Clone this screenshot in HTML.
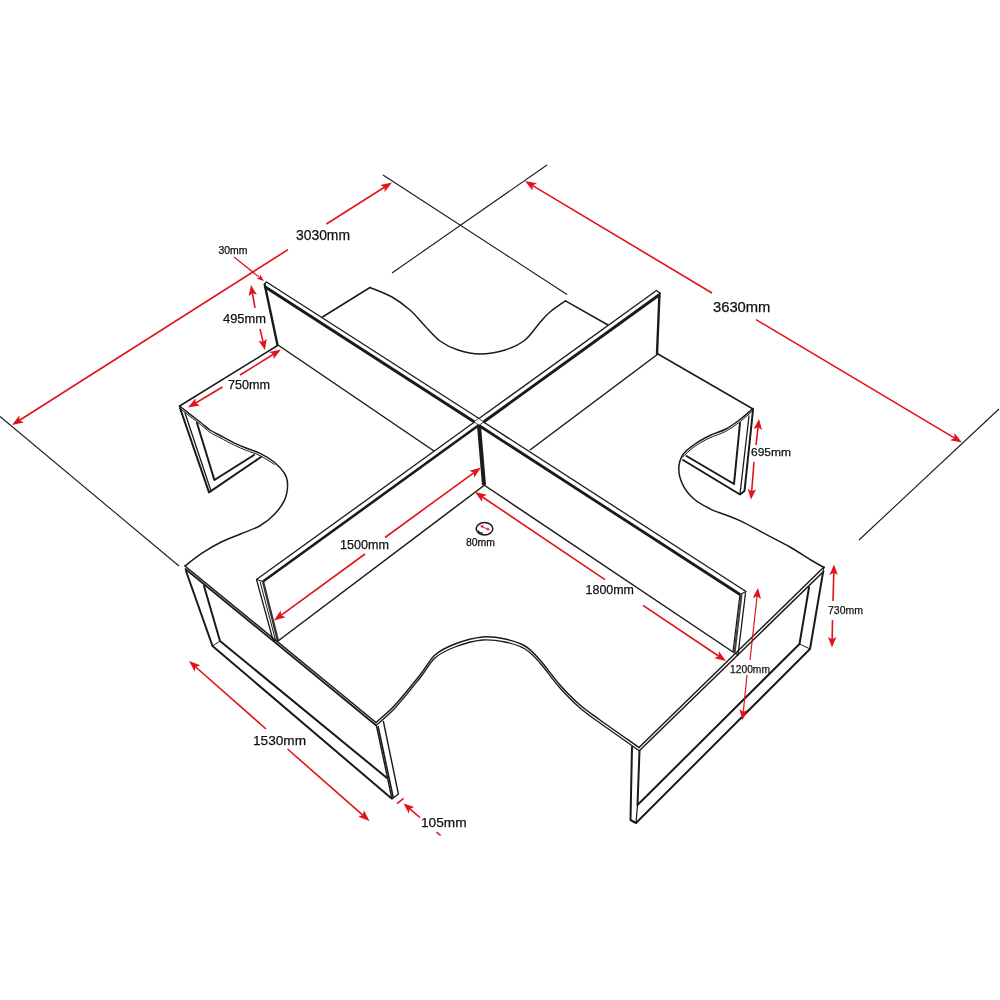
<!DOCTYPE html>
<html><head><meta charset="utf-8"><title>Workstation dimensions</title>
<style>
html,body{margin:0;padding:0;background:#fff;}
body{width:1000px;height:1000px;overflow:hidden;}
svg{display:block;}
text{font-family:"Liberation Sans",sans-serif;}
</style></head><body>
<svg width="1000" height="1000" viewBox="0 0 1000 1000">
<rect width="1000" height="1000" fill="#ffffff"/>
<line x1="0.0" y1="416.5" x2="179.0" y2="566.0" stroke="#1a1a1a" stroke-width="1.1" stroke-linecap="butt"/>
<line x1="383.0" y1="175.0" x2="567.0" y2="294.5" stroke="#1a1a1a" stroke-width="1.1" stroke-linecap="butt"/>
<line x1="547.0" y1="165.0" x2="392.0" y2="273.0" stroke="#1a1a1a" stroke-width="1.1" stroke-linecap="butt"/>
<line x1="999.0" y1="409.0" x2="859.0" y2="540.0" stroke="#1a1a1a" stroke-width="1.1" stroke-linecap="butt"/>
<path d="M322.5,317.0 L370.0,287.5" stroke="#1a1a1a" stroke-width="1.5" fill="none" stroke-linejoin="round" stroke-linecap="round"/>
<path d="M370.0,287.5 C373.7,289.1 385.3,293.2 392.0,297.0 C398.7,300.8 404.5,305.2 410.0,310.0 C415.5,314.8 420.0,320.8 425.0,326.0 C430.0,331.2 434.5,337.0 440.0,341.0 C445.5,345.0 451.3,347.8 458.0,350.0 C464.7,352.2 472.2,354.0 480.0,354.0 C487.8,354.0 497.5,352.3 505.0,350.0 C512.5,347.7 519.2,344.6 525.0,340.0 C530.8,335.4 535.8,327.2 540.0,322.5 C544.2,317.8 545.8,315.6 550.0,312.0 C554.2,308.4 562.9,302.6 565.5,300.8" stroke="#1a1a1a" stroke-width="1.5" fill="none" stroke-linecap="round"/>
<path d="M565.5,300.8 L608.0,325.0" stroke="#1a1a1a" stroke-width="1.5" fill="none" stroke-linejoin="round" stroke-linecap="round"/>
<path d="M277.5,345.5 L179.6,406.0" stroke="#1a1a1a" stroke-width="1.5" fill="none" stroke-linejoin="round" stroke-linecap="round"/>
<line x1="278.0" y1="345.0" x2="434.0" y2="451.0" stroke="#1a1a1a" stroke-width="1.5" stroke-linecap="butt"/>
<path d="M179.5,406.0 C182.9,408.7 194.9,418.0 200.0,422.0 C205.1,426.0 206.7,427.8 210.0,430.0 C213.3,432.2 216.0,433.4 220.0,435.5 C224.0,437.6 229.7,440.7 234.0,442.8 C238.3,444.9 241.7,446.3 246.0,448.0 C250.3,449.7 254.9,450.9 259.6,453.2 C264.3,455.5 269.9,458.7 274.0,462.0 C278.1,465.3 282.1,469.5 284.4,473.2 C286.7,476.9 287.6,479.9 287.6,484.4 C287.6,488.9 286.7,495.3 284.4,500.4 C282.1,505.5 278.1,510.5 274.0,514.8 C269.9,519.1 265.2,522.8 259.6,526.0 C254.0,529.2 246.8,531.3 240.4,534.0 C234.0,536.7 227.6,538.8 221.2,542.0 C214.8,545.2 208.0,549.2 202.0,553.2 C196.0,557.2 187.8,563.9 185.0,566.0" stroke="#1a1a1a" stroke-width="1.5" fill="none" stroke-linecap="round"/>
<path d="M179.8,408.4 C183.2,411.1 195.2,420.4 200.3,424.4 C205.4,428.4 207.0,430.1 210.3,432.4 C213.6,434.6 216.3,435.8 220.3,437.9 C224.3,440.0 230.0,443.1 234.3,445.2 C238.6,447.3 242.0,448.7 246.3,450.4 C250.6,452.1 255.2,453.3 259.9,455.6 C264.6,457.9 271.9,462.9 274.3,464.4" stroke="#1a1a1a" stroke-width="1" fill="none" stroke-linecap="round"/>
<path d="M180.0,408.0 L209.0,492.4 L261.0,457.0" stroke="#1a1a1a" stroke-width="2.0" fill="none" stroke-linejoin="round" stroke-linecap="round"/>
<path d="M185.0,413.0 L211.0,491.0" stroke="#1a1a1a" stroke-width="1.3" fill="none" stroke-linejoin="round" stroke-linecap="round"/>
<path d="M197.0,423.0 L214.4,480.0 L254.0,455.0" stroke="#1a1a1a" stroke-width="2.0" fill="none" stroke-linejoin="round" stroke-linecap="round"/>
<path d="M658.0,354.0 L753.0,409.0" stroke="#1a1a1a" stroke-width="1.5" fill="none" stroke-linejoin="round" stroke-linecap="round"/>
<line x1="658.0" y1="354.0" x2="530.0" y2="450.0" stroke="#1a1a1a" stroke-width="1.5" stroke-linecap="butt"/>
<path d="M753.0,408.5 C750.8,410.3 744.5,416.1 740.0,419.5 C735.5,422.9 731.0,426.3 726.0,429.0 C721.0,431.7 715.2,433.0 710.0,435.5 C704.8,438.0 699.5,440.8 695.0,444.0 C690.5,447.2 685.7,450.4 683.0,454.5 C680.3,458.6 678.8,463.8 678.8,468.8 C678.8,473.9 680.3,479.8 682.8,484.8 C685.3,489.8 689.5,495.0 694.0,499.0 C698.5,503.0 704.7,506.1 710.0,508.8 C715.3,511.5 720.7,512.9 726.0,515.0 C731.3,517.1 735.3,518.4 742.0,521.6 C748.7,524.8 758.0,530.2 766.0,534.4 C774.0,538.6 782.5,542.7 790.0,547.0 C797.5,551.3 805.1,556.6 810.8,560.0 C816.5,563.4 821.8,566.2 824.0,567.5" stroke="#1a1a1a" stroke-width="1.5" fill="none" stroke-linecap="round"/>
<path d="M752.7,410.9 C750.5,412.7 744.2,418.5 739.7,421.9 C735.2,425.3 730.7,428.7 725.7,431.4 C720.7,434.1 714.9,435.4 709.7,437.9 C704.5,440.4 699.2,443.2 694.7,446.4 C690.2,449.6 684.7,455.1 682.7,456.9" stroke="#1a1a1a" stroke-width="1" fill="none" stroke-linecap="round"/>
<path d="M753.0,410.0 L744.5,491.0 L740.0,494.5 L683.0,460.0" stroke="#1a1a1a" stroke-width="2.0" fill="none" stroke-linejoin="round" stroke-linecap="round"/>
<path d="M749.0,416.0 L740.0,494.0" stroke="#1a1a1a" stroke-width="1.3" fill="none" stroke-linejoin="round" stroke-linecap="round"/>
<path d="M740.0,423.0 L734.0,484.0 L686.5,456.0" stroke="#1a1a1a" stroke-width="2.0" fill="none" stroke-linejoin="round" stroke-linecap="round"/>
<path d="M185.0,566.0 L376.0,722.5" stroke="#1a1a1a" stroke-width="1.5" fill="none" stroke-linejoin="round" stroke-linecap="round"/>
<path d="M185.5,569.0 L376.0,725.3" stroke="#1a1a1a" stroke-width="1.8" fill="none" stroke-linejoin="round" stroke-linecap="round"/>
<path d="M824.0,567.0 L639.0,747.5" stroke="#1a1a1a" stroke-width="1.5" fill="none" stroke-linejoin="round" stroke-linecap="round"/>
<path d="M823.8,571.3 L639.3,750.7" stroke="#1a1a1a" stroke-width="1.5" fill="none" stroke-linejoin="round" stroke-linecap="round"/>
<line x1="824.0" y1="567.0" x2="823.0" y2="572.0" stroke="#1a1a1a" stroke-width="1" stroke-linecap="butt"/>
<path d="M376.0,722.5 C379.2,719.6 387.7,712.9 395.0,705.0 C402.3,697.1 413.3,683.3 420.0,675.0 C426.7,666.7 429.2,660.2 435.0,655.0 C440.8,649.8 447.1,647.0 455.0,644.0 C462.9,641.0 474.2,637.8 482.5,637.0 C490.8,636.2 497.9,637.5 505.0,639.0 C512.1,640.5 519.2,642.5 525.0,646.0 C530.8,649.5 534.2,653.5 540.0,660.0 C545.8,666.5 553.3,677.5 560.0,685.0 C566.7,692.5 573.3,699.2 580.0,705.0 C586.7,710.8 590.2,712.9 600.0,720.0 C609.8,727.1 632.5,742.9 639.0,747.5" stroke="#1a1a1a" stroke-width="1.5" fill="none" stroke-linecap="round"/>
<path d="M376.0,725.5 C379.2,722.6 387.7,715.9 395.0,708.0 C402.3,700.1 413.3,686.3 420.0,678.0 C426.7,669.7 429.2,663.2 435.0,658.0 C440.8,652.8 447.1,650.0 455.0,647.0 C462.9,644.0 474.2,640.8 482.5,640.0 C490.8,639.2 497.9,640.5 505.0,642.0 C512.1,643.5 519.2,645.5 525.0,649.0 C530.8,652.5 534.2,656.5 540.0,663.0 C545.8,669.5 553.3,680.5 560.0,688.0 C566.7,695.5 573.3,702.2 580.0,708.0 C586.7,713.8 590.2,715.9 600.0,723.0 C609.8,730.1 632.5,745.9 639.0,750.5" stroke="#1a1a1a" stroke-width="1.3" fill="none" stroke-linecap="round"/>
<path d="M186.0,571.0 L212.5,646.0 L391.0,798.0" stroke="#1a1a1a" stroke-width="2.0" fill="none" stroke-linejoin="round" stroke-linecap="round"/>
<path d="M204.0,586.0 L220.0,641.0 L387.0,778.0" stroke="#1a1a1a" stroke-width="2.0" fill="none" stroke-linejoin="round" stroke-linecap="round"/>
<line x1="212.5" y1="646.0" x2="220.0" y2="641.0" stroke="#1a1a1a" stroke-width="1" stroke-linecap="butt"/>
<path d="M376.5,726.0 L392.0,799.0 L398.4,794.0 L383.4,721.5" stroke="#1a1a1a" stroke-width="1.4" fill="none" stroke-linejoin="round" stroke-linecap="round"/>
<line x1="378.0" y1="726.0" x2="393.3" y2="798.0" stroke="#1a1a1a" stroke-width="1.6" stroke-linecap="butt"/>
<path d="M632.0,747.0 L630.5,820.0 L636.0,823.0 L810.0,649.0 L823.0,572.5" stroke="#1a1a1a" stroke-width="2.0" fill="none" stroke-linejoin="round" stroke-linecap="round"/>
<path d="M639.5,751.0 L637.5,805.0 L799.5,644.0 L809.0,587.5" stroke="#1a1a1a" stroke-width="2.0" fill="none" stroke-linejoin="round" stroke-linecap="round"/>
<line x1="636.0" y1="823.0" x2="637.5" y2="805.0" stroke="#1a1a1a" stroke-width="1.2" stroke-linecap="butt"/>
<line x1="810.0" y1="649.0" x2="799.5" y2="644.0" stroke="#1a1a1a" stroke-width="1" stroke-linecap="butt"/>
<path d="M264.8,285.0 L277.5,345.0" stroke="#1a1a1a" stroke-width="2.4" fill="none" stroke-linejoin="round" stroke-linecap="round"/>
<line x1="266.5" y1="282.0" x2="479.0" y2="418.5" stroke="#1a1a1a" stroke-width="1.3" stroke-linecap="butt"/>
<line x1="264.5" y1="286.5" x2="474.5" y2="422.0" stroke="#1a1a1a" stroke-width="3.0" stroke-linecap="butt"/>
<path d="M264.3,284.0 L266.5,282.0" stroke="#1a1a1a" stroke-width="1.3" fill="none" stroke-linejoin="round" stroke-linecap="round"/>
<path d="M659.5,293.5 L657.0,353.5" stroke="#1a1a1a" stroke-width="2.4" fill="none" stroke-linejoin="round" stroke-linecap="round"/>
<path d="M656.5,290.5 L660.0,293.0" stroke="#1a1a1a" stroke-width="1.3" fill="none" stroke-linejoin="round" stroke-linecap="round"/>
<line x1="656.5" y1="290.5" x2="479.0" y2="418.5" stroke="#1a1a1a" stroke-width="1.3" stroke-linecap="butt"/>
<line x1="659.0" y1="295.0" x2="483.5" y2="422.0" stroke="#1a1a1a" stroke-width="3.0" stroke-linecap="butt"/>
<line x1="479.0" y1="426.0" x2="484.0" y2="485.0" stroke="#1a1a1a" stroke-width="4" stroke-linecap="butt"/>
<path d="M479.0,418.5 L483.5,422.0 L479.0,425.5 L474.5,422.0 Z" stroke="#1a1a1a" stroke-width="0.8" fill="none" stroke-linejoin="round" stroke-linecap="round"/>
<line x1="256.5" y1="579.5" x2="474.5" y2="422.0" stroke="#1a1a1a" stroke-width="1.3" stroke-linecap="butt"/>
<line x1="263.0" y1="581.5" x2="479.0" y2="425.0" stroke="#1a1a1a" stroke-width="2.6" stroke-linecap="butt"/>
<path d="M256.5,579.5 L263.0,581.5" stroke="#1a1a1a" stroke-width="1.2" fill="none" stroke-linejoin="round" stroke-linecap="round"/>
<path d="M256.5,579.5 L273.0,640.0 L278.0,641.0" stroke="#1a1a1a" stroke-width="1.3" fill="none" stroke-linejoin="round" stroke-linecap="round"/>
<line x1="263.0" y1="581.5" x2="278.0" y2="641.0" stroke="#333" stroke-width="2.4" stroke-linecap="butt"/>
<line x1="260.0" y1="581.5" x2="275.5" y2="640.0" stroke="#1a1a1a" stroke-width="1" stroke-linecap="butt"/>
<line x1="278.0" y1="641.0" x2="484.0" y2="485.5" stroke="#1a1a1a" stroke-width="1.5" stroke-linecap="butt"/>
<line x1="483.5" y1="422.0" x2="746.0" y2="591.5" stroke="#1a1a1a" stroke-width="1.3" stroke-linecap="butt"/>
<line x1="479.0" y1="425.5" x2="740.0" y2="594.5" stroke="#1a1a1a" stroke-width="2.8" stroke-linecap="butt"/>
<path d="M746.0,591.5 L740.0,594.5" stroke="#1a1a1a" stroke-width="1.2" fill="none" stroke-linejoin="round" stroke-linecap="round"/>
<path d="M745.5,593.0 L738.0,655.0 L733.0,652.0 L740.0,594.5" stroke="#1a1a1a" stroke-width="1.3" fill="none" stroke-linejoin="round" stroke-linecap="round"/>
<line x1="741.5" y1="594.0" x2="734.5" y2="653.0" stroke="#444" stroke-width="2.2" stroke-linecap="butt"/>
<line x1="484.0" y1="485.0" x2="733.0" y2="652.0" stroke="#1a1a1a" stroke-width="1.5" stroke-linecap="butt"/>
<path d="M12.0,425.0 L19.3,415.4 L19.6,420.2 L23.8,422.5 Z" fill="#e0131b"/>
<line x1="288.0" y1="249.6" x2="19.6" y2="420.2" stroke="#e0131b" stroke-width="1.6" stroke-linecap="butt"/>
<path d="M392.0,182.4 L384.7,192.0 L384.4,187.2 L380.2,184.9 Z" fill="#e0131b"/>
<line x1="326.4" y1="224.0" x2="384.4" y2="187.2" stroke="#e0131b" stroke-width="1.6" stroke-linecap="butt"/>
<path d="M525.0,181.0 L536.9,183.2 L532.7,185.6 L532.5,190.4 Z" fill="#e0131b"/>
<line x1="712.0" y1="293.0" x2="532.7" y2="185.6" stroke="#e0131b" stroke-width="1.6" stroke-linecap="butt"/>
<path d="M962.0,442.5 L950.1,440.3 L954.3,437.9 L954.4,433.1 Z" fill="#e0131b"/>
<line x1="756.0" y1="319.6" x2="954.3" y2="437.9" stroke="#e0131b" stroke-width="1.6" stroke-linecap="butt"/>
<path d="M264.0,281.0 L256.9,278.7 L259.7,277.6 L260.2,274.6 Z" fill="#e0131b"/>
<line x1="234.0" y1="257.0" x2="259.7" y2="277.6" stroke="#e0131b" stroke-width="1.2" stroke-linecap="butt"/>
<path d="M251.0,285.0 L256.9,294.6 L252.4,293.2 L248.7,296.1 Z" fill="#e0131b"/>
<line x1="255.0" y1="308.0" x2="252.4" y2="293.2" stroke="#e0131b" stroke-width="1.6" stroke-linecap="butt"/>
<path d="M265.0,350.0 L258.5,340.8 L263.1,341.9 L266.7,338.8 Z" fill="#e0131b"/>
<line x1="260.0" y1="329.0" x2="263.1" y2="341.9" stroke="#e0131b" stroke-width="1.6" stroke-linecap="butt"/>
<path d="M188.0,407.6 L195.5,398.2 L195.7,403.0 L199.9,405.4 Z" fill="#e0131b"/>
<line x1="222.5" y1="387.0" x2="195.7" y2="403.0" stroke="#e0131b" stroke-width="1.6" stroke-linecap="butt"/>
<path d="M281.0,349.5 L273.6,359.0 L273.4,354.3 L269.2,351.9 Z" fill="#e0131b"/>
<line x1="240.0" y1="375.0" x2="273.4" y2="354.3" stroke="#e0131b" stroke-width="1.6" stroke-linecap="butt"/>
<path d="M274.0,620.5 L280.6,610.4 L281.3,615.2 L285.6,617.2 Z" fill="#e0131b"/>
<line x1="365.0" y1="554.0" x2="281.3" y2="615.2" stroke="#e0131b" stroke-width="1.6" stroke-linecap="butt"/>
<path d="M481.0,467.5 L474.3,477.6 L473.7,472.8 L469.4,470.8 Z" fill="#e0131b"/>
<line x1="385.0" y1="537.5" x2="473.7" y2="472.8" stroke="#e0131b" stroke-width="1.6" stroke-linecap="butt"/>
<path d="M475.0,492.0 L486.7,494.8 L482.5,497.0 L482.0,501.8 Z" fill="#e0131b"/>
<line x1="605.0" y1="579.6" x2="482.5" y2="497.0" stroke="#e0131b" stroke-width="1.6" stroke-linecap="butt"/>
<path d="M726.0,661.0 L714.3,658.2 L718.5,656.0 L718.9,651.2 Z" fill="#e0131b"/>
<line x1="643.0" y1="605.4" x2="718.5" y2="656.0" stroke="#e0131b" stroke-width="1.6" stroke-linecap="butt"/>
<path d="M759.0,419.0 L762.0,429.9 L758.0,427.2 L753.6,428.9 Z" fill="#e0131b"/>
<line x1="756.0" y1="445.0" x2="758.0" y2="427.2" stroke="#e0131b" stroke-width="1.6" stroke-linecap="butt"/>
<path d="M751.0,499.5 L747.7,488.7 L751.7,491.2 L756.0,489.4 Z" fill="#e0131b"/>
<line x1="754.0" y1="462.0" x2="751.7" y2="491.2" stroke="#e0131b" stroke-width="1.6" stroke-linecap="butt"/>
<path d="M834.0,564.5 L837.9,575.1 L833.8,572.8 L829.5,574.9 Z" fill="#e0131b"/>
<line x1="833.0" y1="601.0" x2="833.8" y2="572.8" stroke="#e0131b" stroke-width="1.6" stroke-linecap="butt"/>
<path d="M832.0,647.5 L828.0,636.9 L832.2,639.2 L836.4,637.1 Z" fill="#e0131b"/>
<line x1="832.5" y1="620.0" x2="832.2" y2="639.2" stroke="#e0131b" stroke-width="1.6" stroke-linecap="butt"/>
<path d="M758.0,588.0 L761.0,598.9 L757.1,596.2 L752.7,598.0 Z" fill="#e0131b"/>
<line x1="750.0" y1="660.0" x2="757.1" y2="596.2" stroke="#e0131b" stroke-width="1.2" stroke-linecap="butt"/>
<path d="M742.5,720.0 L739.4,709.1 L743.3,711.7 L747.7,710.0 Z" fill="#e0131b"/>
<line x1="747.0" y1="675.0" x2="743.3" y2="711.7" stroke="#e0131b" stroke-width="1.2" stroke-linecap="butt"/>
<path d="M189.0,661.0 L200.3,665.3 L195.7,667.0 L194.7,671.6 Z" fill="#e0131b"/>
<line x1="266.0" y1="729.0" x2="195.7" y2="667.0" stroke="#e0131b" stroke-width="1.6" stroke-linecap="butt"/>
<path d="M369.6,821.0 L358.3,816.7 L362.8,815.1 L363.9,810.4 Z" fill="#e0131b"/>
<line x1="287.5" y1="749.0" x2="362.8" y2="815.1" stroke="#e0131b" stroke-width="1.6" stroke-linecap="butt"/>
<line x1="397.0" y1="803.6" x2="403.6" y2="798.4" stroke="#e0131b" stroke-width="1.6" stroke-linecap="butt"/>
<path d="M403.5,803.5 L414.2,807.1 L409.8,808.9 L408.8,813.5 Z" fill="#e0131b"/>
<line x1="420.0" y1="817.5" x2="409.8" y2="808.9" stroke="#e0131b" stroke-width="1.6" stroke-linecap="butt"/>
<line x1="436.4" y1="832.0" x2="440.6" y2="835.4" stroke="#e0131b" stroke-width="1.6" stroke-linecap="butt"/>
<ellipse cx="484.5" cy="528.8" rx="8.3" ry="6.2" fill="none" stroke="#1a1a1a" stroke-width="1.5"/>
<path d="M478,530.5 Q479.5,533.5 483,533" fill="none" stroke="#1a1a1a" stroke-width="1.2"/>
<line x1="482.0" y1="526.5" x2="488.0" y2="529.5" stroke="#e0131b" stroke-width="1" stroke-linecap="butt"/>
<path d="M480.0,525.5 L483.9,525.3 L482.7,526.7 L482.5,528.6 Z" fill="#e0131b"/>
<path d="M490.0,530.0 L486.1,530.2 L487.3,528.8 L487.5,526.9 Z" fill="#e0131b"/>
<g style="filter:grayscale(1)">
<text x="296" y="239.6" font-size="14.5" textLength="54" lengthAdjust="spacingAndGlyphs" fill="#111" stroke="#111" stroke-width="0.25">3030mm</text>
<text x="713" y="312" font-size="14.5" textLength="57.4" lengthAdjust="spacingAndGlyphs" fill="#111" stroke="#111" stroke-width="0.25">3630mm</text>
<text x="218.4" y="254.4" font-size="10" textLength="29" lengthAdjust="spacingAndGlyphs" fill="#111" stroke="#111" stroke-width="0.25">30mm</text>
<text x="223" y="323" font-size="12.8" textLength="43" lengthAdjust="spacingAndGlyphs" fill="#111" stroke="#111" stroke-width="0.25">495mm</text>
<text x="228" y="388.8" font-size="12.8" textLength="42" lengthAdjust="spacingAndGlyphs" fill="#111" stroke="#111" stroke-width="0.25">750mm</text>
<text x="340" y="549" font-size="12.8" textLength="49" lengthAdjust="spacingAndGlyphs" fill="#111" stroke="#111" stroke-width="0.25">1500mm</text>
<text x="585.6" y="593.6" font-size="12.8" textLength="48.4" lengthAdjust="spacingAndGlyphs" fill="#111" stroke="#111" stroke-width="0.25">1800mm</text>
<text x="466" y="546" font-size="10" textLength="29" lengthAdjust="spacingAndGlyphs" fill="#111" stroke="#111" stroke-width="0.25">80mm</text>
<text x="751" y="456" font-size="11.5" textLength="40" lengthAdjust="spacingAndGlyphs" fill="#111" stroke="#111" stroke-width="0.25">695mm</text>
<text x="828" y="614" font-size="11" textLength="35" lengthAdjust="spacingAndGlyphs" fill="#111" stroke="#111" stroke-width="0.25">730mm</text>
<text x="730" y="672.5" font-size="11" textLength="40" lengthAdjust="spacingAndGlyphs" fill="#111" stroke="#111" stroke-width="0.25">1200mm</text>
<text x="253" y="744.5" font-size="13.5" textLength="53" lengthAdjust="spacingAndGlyphs" fill="#111" stroke="#111" stroke-width="0.25">1530mm</text>
<text x="421" y="826.5" font-size="13.5" textLength="45.5" lengthAdjust="spacingAndGlyphs" fill="#111" stroke="#111" stroke-width="0.25">105mm</text>
</g>
</svg>
</body></html>
